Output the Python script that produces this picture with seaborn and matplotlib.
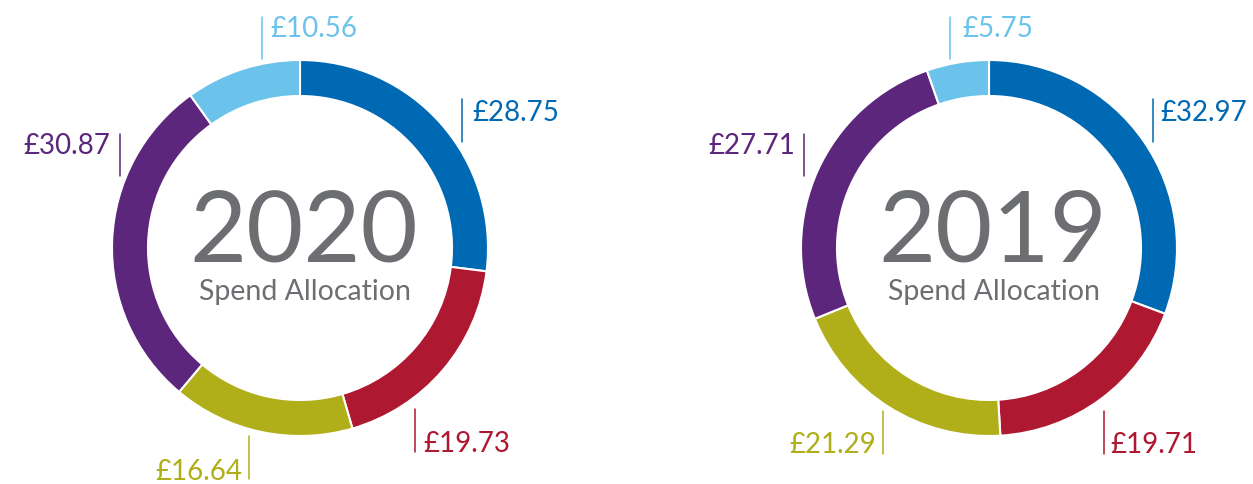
import matplotlib
matplotlib.use("Agg")
import matplotlib.pyplot as plt
import seaborn as sns

years = ["2020", "2019"]
spend_2020 = [28.75, 19.73, 16.64, 30.87, 10.56]
spend_2019 = [32.97, 19.71, 21.29, 27.71, 5.75]
colours = ["#0069B4", "#AE1830", "#B0AF19", "#5B267B", "#6BC3EB"]
subtitle = "Spend Allocation"

# layout in pixel coords of the 1253x485 canvas (y from top)
W, H = 1253, 485
centres = [(300, 249), (989, 249)]
R, RING = 188, 36
# (line x, line top, line bottom, text x, baseline, ha) per slice
label_pos = [
    [(462, 100, 143, 472, 121, "left"), (415, 410, 453, 423, 452, "left"),
     (249, 437, 480, 242, 480, "right"), (120, 135, 177, 110, 154, "right"),
     (262, 18, 60, 270, 37, "left")],
    [(1153, 100, 143, 1160, 121, "left"), (1104, 412, 455, 1110, 453, "left"),
     (883, 412, 455, 876, 453, "right"), (804, 135, 177, 795, 154, "right"),
     (950, 18, 60, 962, 37, "left")],
]

sns.set_theme(style="white")
plt.rcParams["font.family"] = ["Lato", "DejaVu Sans"]

fig = plt.figure(figsize=(W / 100, H / 100), dpi=100)
ax = fig.add_axes([0, 0, 1, 1])

for year, vals, (cx, cy), labs in zip(years, [spend_2020, spend_2019], centres, label_pos):
    ax.pie(vals, colors=colours, center=(cx, H - cy), radius=R, startangle=90,
           counterclock=False,
           wedgeprops=dict(width=RING, edgecolor="white", linewidth=1.5))
    ax.text(cx + 4, H - 262, year, ha="center", va="baseline", fontsize=71,
            fontweight="normal", color="#6D6E71")
    ax.text(cx + 5, H - 300, subtitle, ha="center", va="baseline", fontsize=20.5,
            fontweight="normal", color="#6D6E71")
    for v, c, (lx, y0, y1, tx, base, ha) in zip(vals, colours, labs):
        ax.plot([lx, lx], [H - y0, H - y1], color=c, lw=1.1)
        ax.text(tx, H - base, f"£{v:.2f}", ha=ha, va="baseline", fontsize=20,
                fontweight="normal", color=c)

ax.set_xlim(0, W)
ax.set_ylim(0, H)
ax.set_aspect("equal")
ax.axis("off")

fig.savefig("out.png", dpi=100, facecolor="white")
